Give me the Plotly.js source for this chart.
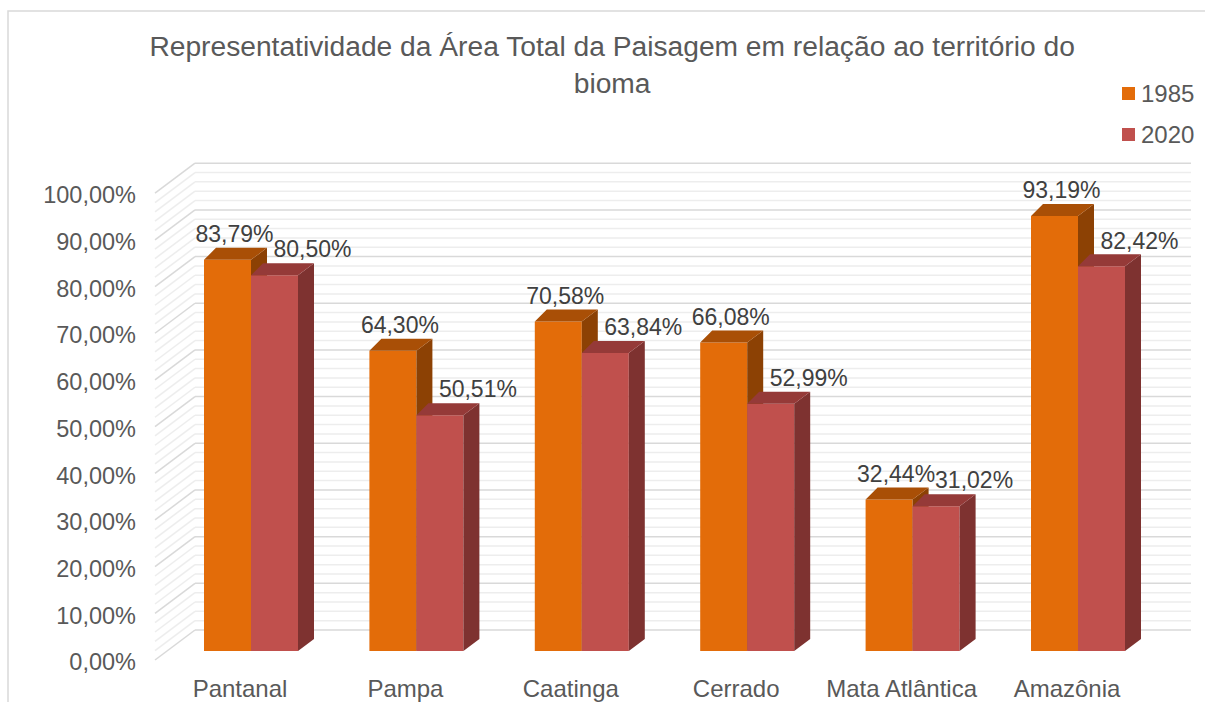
<!DOCTYPE html>
<html>
<head>
<meta charset="utf-8">
<script src="https://cdn.plot.ly/plotly-3.0.1.min.js"></script>
<style>html,body{margin:0;padding:0;background:#fff;}#chart{width:1205px;height:702px;}</style>
</head>
<body>
<div id="chart"></div>
<script>
// ---- data ----
const categories = ['Pantanal', 'Pampa', 'Caatinga', 'Cerrado', 'Mata Atlântica', 'Amazônia'];
const series1985 = [83.79, 64.30, 70.58, 66.08, 32.44, 93.19];
const series2020 = [80.50, 50.51, 63.84, 52.99, 31.02, 82.42];
const seriesNames = ['1985', '2020'];
const yTicks = [0, 10, 20, 30, 40, 50, 60, 70, 80, 90, 100];
const titleText = 'Representatividade da Área Total da Paisagem em relação ao território do<br>bioma';

// ---- geometry (pixels) ----
const W = 1205, H = 702;
const L = 150, R = 1195, T = 140, B = 672;
const Y0 = 651, K = 4.668;         // front plane: 0% pixel, px per %
const X0 = 251, S = 165.4;         // first group centre, px per category
const BARW = 47;                   // front width of each bar
const DXL = 12, DXR = 16, DY = 12; // depth offsets
const WALL_FRONT_X = 155, WALL_BACK_X = 195, WALL_RIGHT_X = 1191;
const WALL_FRONT_Y0 = 660, WALL_BACK_Y0 = 630;
const TICK_Y0 = 662;
const LABEL_SHIFT = 11;
const DATA_LABEL_SHIFT = {'1985': 0, '2020': 31};

const px = x => x / W, py = y => 1 - y / H;
const w = BARW / S, dxl = DXL / S, dxr = DXR / S, dyu = DY / K;

const colors = {
  '1985': {front: '#E36C09', top: '#A94F06', side: '#8C4104'},
  '2020': {front: '#C0504D', top: '#953A38', side: '#7E3230'}
};
const fmt = v => v.toFixed(2).replace('.', ',') + '%';

function faces(vals, a, b) {
  const top = {x: [], y: []}, side = {x: [], y: []};
  vals.forEach((v, i) => {
    top.x.push(i + a, i + b, i + b + dxr, i + a + dxl, i + a, null);
    top.y.push(v, v, v + dyu, v + dyu, v, null);
    side.x.push(i + b, i + b, i + b + dxr, i + b + dxr, i + b, null);
    side.y.push(0, v, v + dyu, dyu, 0, null);
  });
  return {top, side};
}

function buildSeries(name, vals, a, xa, ya) {
  const c = colors[name];
  const f = faces(vals, a, a + w);
  const idx = vals.map((v, i) => i);
  const shift = DATA_LABEL_SHIFT[name] / S;
  return [
    {type: 'scatter', x: f.side.x, y: f.side.y, xaxis: xa, yaxis: ya, mode: 'lines', fill: 'toself',
     fillcolor: c.side, line: {width: 0, color: c.side}, hoverinfo: 'skip', showlegend: false},
    {type: 'scatter', x: f.top.x, y: f.top.y, xaxis: xa, yaxis: ya, mode: 'lines', fill: 'toself',
     fillcolor: c.top, line: {width: 0, color: c.top}, hoverinfo: 'skip', showlegend: false},
    {type: 'bar', name: name, x: idx, y: vals, offset: a, width: w, xaxis: xa, yaxis: ya,
     marker: {color: c.front, line: {width: 0}}, showlegend: false},
    {type: 'scatter', x: idx.map(i => i + a + w / 2 + (dxl + dxr) / 4 + shift), y: vals.map(v => v + dyu),
     xaxis: xa, yaxis: ya, mode: 'text', text: vals.map(fmt),
     textposition: 'top center', cliponaxis: false,
     textfont: {family: '"Liberation Sans", Arial, sans-serif', size: 23, color: '#404040'},
     hoverinfo: 'skip', showlegend: false}
  ];
}

const traces = [
  ...buildSeries(seriesNames[0], series1985, -w, 'x', 'y'),
  ...buildSeries(seriesNames[1], series2020, 0, 'x2', 'y2')
];

// ---- walls ----
const shapes = [];
for (let v = 0; v <= 100; v += 2) {
  const major = v % 10 === 0;
  const col = major ? '#D9D9D9' : '#EDEDED';
  const yf = WALL_FRONT_Y0 - v * K, yb = WALL_BACK_Y0 - v * K;
  shapes.push({type: 'line', xref: 'paper', yref: 'paper', layer: 'below',
    x0: px(WALL_FRONT_X), y0: py(yf), x1: px(WALL_BACK_X), y1: py(yb), line: {color: col, width: 1.5}});
  shapes.push({type: 'line', xref: 'paper', yref: 'paper', layer: 'below',
    x0: px(WALL_BACK_X), y0: py(yb), x1: px(WALL_RIGHT_X), y1: py(yb), line: {color: col, width: 1.5}});
}
shapes.push({type: 'rect', xref: 'paper', yref: 'paper', layer: 'below',
  x0: px(8), y0: py(11), x1: 1.02, y1: -0.02, line: {color: '#D9D9D9', width: 1.5}});

// ---- legend (swatches + labels) ----
const annotations = [];
const LEG_X = 1122, LEG_Y = [93.5, 134.5], SW = 13;
seriesNames.forEach((n, j) => {
  shapes.push({type: 'rect', xref: 'paper', yref: 'paper', layer: 'above',
    x0: px(LEG_X), x1: px(LEG_X + SW), y0: py(LEG_Y[j] - SW / 2), y1: py(LEG_Y[j] + SW / 2),
    fillcolor: colors[n].front, line: {width: 0}});
  annotations.push({xref: 'paper', yref: 'paper', x: px(LEG_X + SW + 4), y: py(LEG_Y[j]),
    xanchor: 'left', yanchor: 'middle', text: n, showarrow: false,
    font: {family: '"Liberation Sans", Arial, sans-serif', size: 24, color: '#595959'}});
});

const xr = [(L - X0) / S, (R - X0) / S];
const yr = [(Y0 - B) / K, (Y0 - T) / K];
const font = {family: '"Liberation Sans", Arial, sans-serif', size: 24, color: '#595959'};

const layout = {
  width: W, height: H,
  margin: {l: 0, r: 0, t: 0, b: 0},
  paper_bgcolor: '#FFFFFF', plot_bgcolor: 'rgba(0,0,0,0)',
  font: font,
  barmode: 'overlay',
  showlegend: false,
  title: {text: titleText,
    font: {family: font.family, size: 28.2, color: '#595959'},
    x: 0.508, xanchor: 'center', y: py(56), yanchor: 'middle'},
  xaxis: {domain: [px(L), px(R)], range: xr, showgrid: false, zeroline: false, showline: false,
    tickmode: 'array', tickvals: categories.map((c, i) => i - LABEL_SHIFT / S), ticktext: categories, ticks: '',
    ticklabelstandoff: 0, tickfont: font, fixedrange: true},
  yaxis: {domain: [py(B), py(T)], range: yr, showgrid: false, zeroline: false, showline: false,
    showticklabels: false, ticks: '', fixedrange: true},
  xaxis2: {overlaying: 'x', range: xr, visible: false, fixedrange: true},
  yaxis2: {overlaying: 'y', range: yr, visible: false, fixedrange: true},
  yaxis3: {overlaying: 'y', anchor: 'free', position: px(136), side: 'left',
    range: [(TICK_Y0 - B) / K, (TICK_Y0 - T) / K],
    tickmode: 'array', tickvals: yTicks, ticktext: yTicks.map(fmt), ticks: '', showgrid: false,
    zeroline: false, showline: false, tickfont: {family: font.family, size: 23.5, color: '#595959'},
    fixedrange: true},
  shapes: shapes,
  annotations: annotations
};

// dummy trace to activate yaxis3
traces.push({type: 'scatter', x: [null], y: [null], xaxis: 'x', yaxis: 'y3', showlegend: false, hoverinfo: 'skip'});

Plotly.newPlot('chart', traces, layout, {displayModeBar: false, staticPlot: true});
</script>
</body>
</html>
